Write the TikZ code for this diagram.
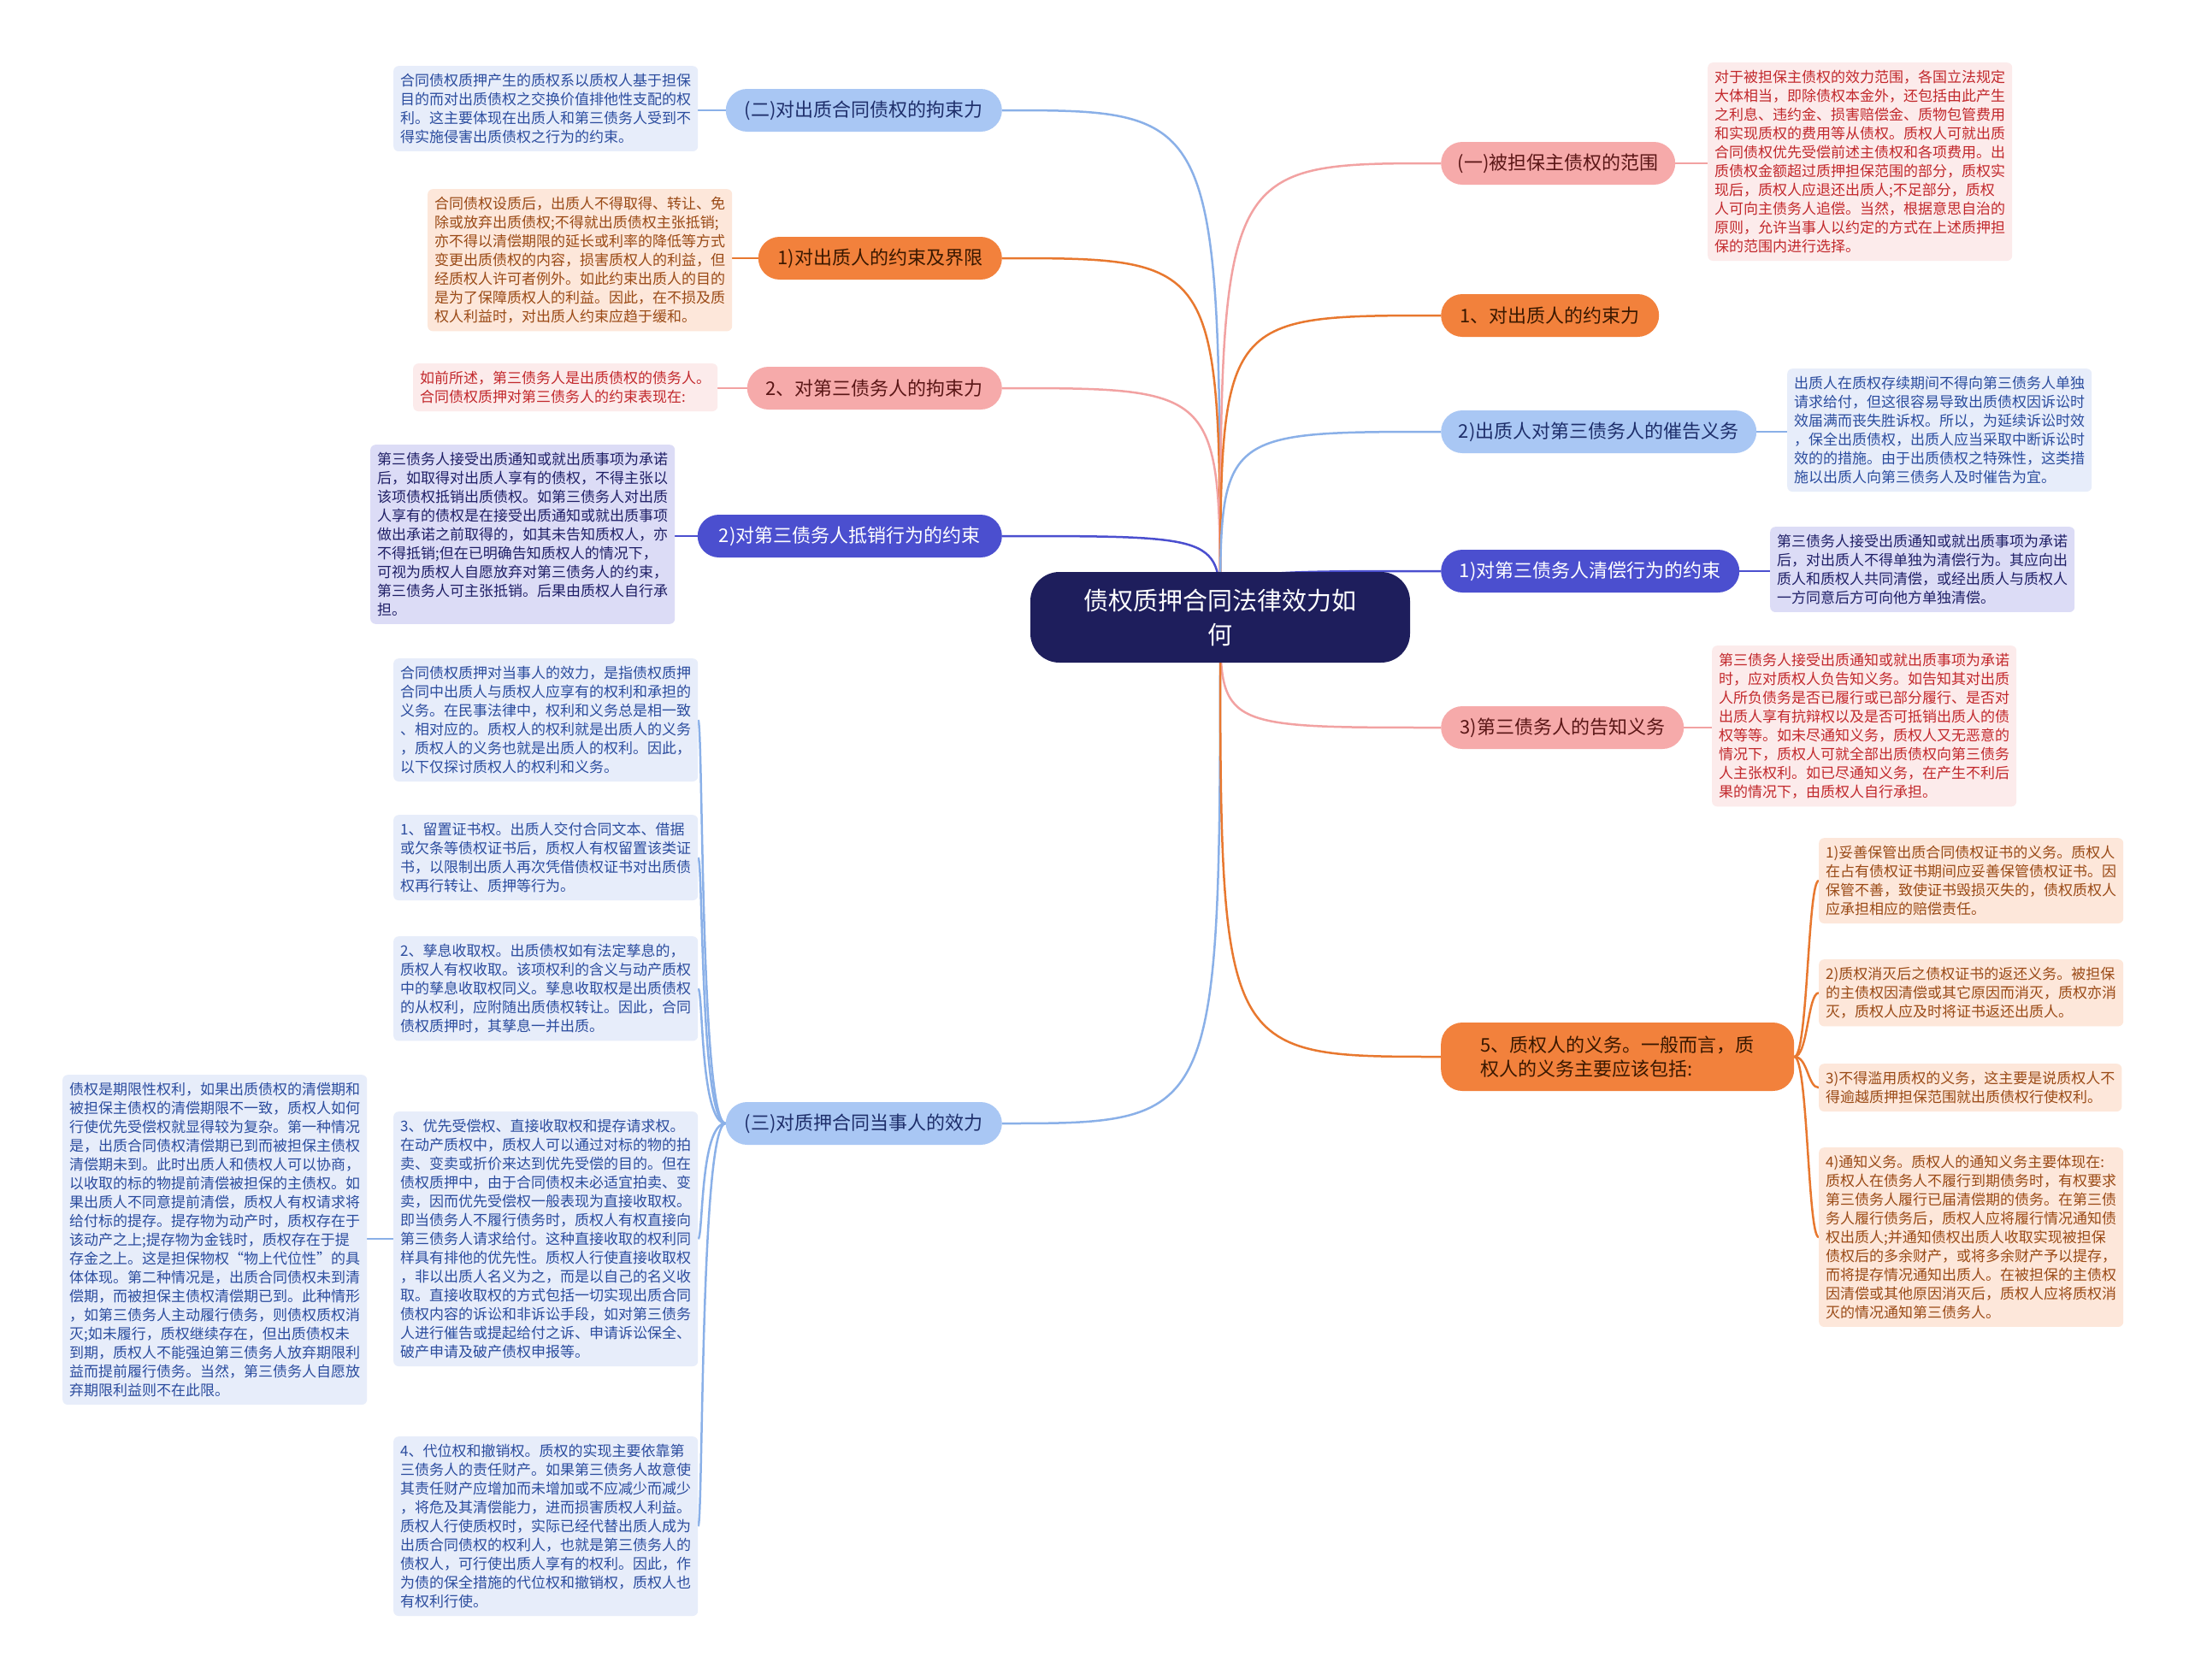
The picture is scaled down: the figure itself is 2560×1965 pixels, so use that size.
\documentclass[tikz,border=0pt]{standalone}
\usepackage{fontspec}
\setmainfont{Noto Sans CJK SC}
\usetikzlibrary{calc}
\pgfdeclarelayer{bg}
\pgfsetlayers{bg,main}
\definecolor{lbF}{HTML}{E7EDFA}\definecolor{lbT}{HTML}{2B4C9E}
\definecolor{lpF}{HTML}{FDE7DA}\definecolor{lpT}{HTML}{9A4A16}
\definecolor{lkF}{HTML}{FCEBEB}\definecolor{lkT}{HTML}{C2282C}
\definecolor{lvF}{HTML}{DCDCF6}\definecolor{lvT}{HTML}{1F1F66}
\definecolor{bbF}{HTML}{A9C7F4}\definecolor{bbT}{HTML}{1E2E6A}
\definecolor{boF}{HTML}{F2813C}\definecolor{boT}{HTML}{3A1800}
\definecolor{bkF}{HTML}{F6AAAA}\definecolor{bkT}{HTML}{5A1616}
\definecolor{bpF}{HTML}{4B4FCF}
\definecolor{rootF}{HTML}{1E1E5C}
\definecolor{cB}{HTML}{8AB0E8}\definecolor{cO}{HTML}{E8782F}
\definecolor{cK}{HTML}{F2A2A2}\definecolor{cP}{HTML}{4B4FCF}
\tikzset{
 leaf/.style={anchor=north west, rounded corners=6pt, inner xsep=8pt, inner ysep=9pt, align=left, font=\fontsize{17}{22}\selectfont},
 lfblue/.style={leaf, fill=lbF, text=lbT},
 lfpeach/.style={leaf, fill=lpF, text=lpT},
 lfpink/.style={leaf, fill=lkF, text=lkT},
 lfpurp/.style={leaf, fill=lvF, text=lvT},
 br/.style={rounded corners=25pt, minimum height=50pt, inner xsep=12pt, font=\fontsize{22}{28}\selectfont},
 brblue/.style={br, fill=bbF, text=bbT},
 brorange/.style={br, fill=boF, text=boT},
 brpink/.style={br, fill=bkF, text=bkT},
 brpurp/.style={br, fill=bpF, text=white},
 cn/.style={line width=2.5pt},
 cnblue/.style={cn, draw=cB},
 cnorange/.style={cn, draw=cO},
 cnpink/.style={cn, draw=cK},
 cnpurp/.style={cn, draw=cP}
}
\begin{document}
\begin{tikzpicture}[x=1pt,y=-1pt]
\begin{pgfonlayer}{bg}
\fill[white] (0,0) rectangle (2560,1965);
\end{pgfonlayer}
\useasboundingbox (0,0) rectangle (2560,1965);

% root
\node[fill=rootF, text=white, rounded corners=34pt, minimum width=444pt, minimum height=106pt, align=center, font=\fontsize{29}{40}\selectfont] (root) at (1427,722) {债权质押合同法律效力如\\何};

% left branches
\node[brblue, anchor=east, minimum width=323pt] (B1) at (1172,129) {(二)对出质合同债权的拘束力};
\node[brorange, anchor=east, minimum width=285pt] (B2) at (1172,302) {1)对出质人的约束及界限};
\node[brpink, anchor=east, minimum width=298pt] (B3) at (1172,454) {2、对第三债务人的拘束力};
\node[brpurp, anchor=east, minimum width=356pt] (B4) at (1172,627) {2)对第三债务人抵销行为的约束};
\node[brblue, anchor=east, minimum width=323pt] (B5) at (1172,1314) {(三)对质押合同当事人的效力};

% right branches
\node[brpink, anchor=west, minimum width=274pt] (B6) at (1685,191) {(一)被担保主债权的范围};
\node[brorange, anchor=west, minimum width=255pt] (B7) at (1685,369) {1、对出质人的约束力};
\node[brblue, anchor=west, minimum width=369pt] (B8) at (1685,505) {2)出质人对第三债务人的催告义务};
\node[brpurp, anchor=west, minimum width=349pt] (B9) at (1685,668) {1)对第三债务人清偿行为的约束};
\node[brpink, anchor=west, minimum width=284pt] (B10) at (1685,851) {3)第三债务人的告知义务};
\node[brorange, anchor=west, minimum width=413pt, minimum height=80pt, align=left, inner xsep=22pt] (B11) at (1685,1236) {5、质权人的义务。一般而言，质\\权人的义务主要应该包括:};

% left leaves
\node[lfblue] (L1) at (460,77) {合同债权质押产生的质权系以质权人基于担保\\目的而对出质债权之交换价值排他性支配的权\\利。这主要体现在出质人和第三债务人受到不\\得实施侵害出质债权之行为的约束。};
\node[lfpeach] (L2) at (500,221) {合同债权设质后，出质人不得取得、转让、免\\除或放弃出质债权;不得就出质债权主张抵销;\\亦不得以清偿期限的延长或利率的降低等方式\\变更出质债权的内容，损害质权人的利益，但\\经质权人许可者例外。如此约束出质人的目的\\是为了保障质权人的利益。因此，在不损及质\\权人利益时，对出质人约束应趋于缓和。};
\node[lfpink] (L3) at (483,425) {如前所述，第三债务人是出质债权的债务人。\\合同债权质押对第三债务人的约束表现在:};
\node[lfpurp] (L4) at (433,520) {第三债务人接受出质通知或就出质事项为承诺\\后，如取得对出质人享有的债权，不得主张以\\该项债权抵销出质债权。如第三债务人对出质\\人享有的债权是在接受出质通知或就出质事项\\做出承诺之前取得的，如其未告知质权人，亦\\不得抵销;但在已明确告知质权人的情况下，\\可视为质权人自愿放弃对第三债务人的约束，\\第三债务人可主张抵销。后果由质权人自行承\\担。};
\node[lfblue] (L5) at (460,770) {合同债权质押对当事人的效力，是指债权质押\\合同中出质人与质权人应享有的权利和承担的\\义务。在民事法律中，权利和义务总是相一致\\、相对应的。质权人的权利就是出质人的义务\\，质权人的义务也就是出质人的权利。因此，\\以下仅探讨质权人的权利和义务。};
\node[lfblue] (L6) at (460,953) {1、留置证书权。出质人交付合同文本、借据\\或欠条等债权证书后，质权人有权留置该类证\\书，以限制出质人再次凭借债权证书对出质债\\权再行转让、质押等行为。};
\node[lfblue] (L7) at (460,1095) {2、孳息收取权。出质债权如有法定孳息的，\\质权人有权收取。该项权利的含义与动产质权\\中的孳息收取权同义。孳息收取权是出质债权\\的从权利，应附随出质债权转让。因此，合同\\债权质押时，其孳息一并出质。};
\node[lfblue] (L8) at (460,1300) {3、优先受偿权、直接收取权和提存请求权。\\在动产质权中，质权人可以通过对标的物的拍\\卖、变卖或折价来达到优先受偿的目的。但在\\债权质押中，由于合同债权未必适宜拍卖、变\\卖，因而优先受偿权一般表现为直接收取权。\\即当债务人不履行债务时，质权人有权直接向\\第三债务人请求给付。这种直接收取的权利同\\样具有排他的优先性。质权人行使直接收取权\\，非以出质人名义为之，而是以自己的名义收\\取。直接收取权的方式包括一切实现出质合同\\债权内容的诉讼和非诉讼手段，如对第三债务\\人进行催告或提起给付之诉、申请诉讼保全、\\破产申请及破产债权申报等。};
\node[lfblue] (L9) at (460,1680) {4、代位权和撤销权。质权的实现主要依靠第\\三债务人的责任财产。如果第三债务人故意使\\其责任财产应增加而未增加或不应减少而减少\\，将危及其清偿能力，进而损害质权人利益。\\质权人行使质权时，实际已经代替出质人成为\\出质合同债权的权利人，也就是第三债务人的\\债权人，可行使出质人享有的权利。因此，作\\为债的保全措施的代位权和撤销权，质权人也\\有权利行使。};
\node[lfblue] (L10) at (73,1257) {债权是期限性权利，如果出质债权的清偿期和\\被担保主债权的清偿期限不一致，质权人如何\\行使优先受偿权就显得较为复杂。第一种情况\\是，出质合同债权清偿期已到而被担保主债权\\清偿期未到。此时出质人和债权人可以协商，\\以收取的标的物提前清偿被担保的主债权。如\\果出质人不同意提前清偿，质权人有权请求将\\给付标的提存。提存物为动产时，质权存在于\\该动产之上;提存物为金钱时，质权存在于提\\存金之上。这是担保物权“物上代位性”的具\\体体现。第二种情况是，出质合同债权未到清\\偿期，而被担保主债权清偿期已到。此种情形\\，如第三债务人主动履行债务，则债权质权消\\灭;如未履行，质权继续存在，但出质债权未\\到期，质权人不能强迫第三债务人放弃期限利\\益而提前履行债务。当然，第三债务人自愿放\\弃期限利益则不在此限。};

% right leaves
\node[lfpink] (R1) at (1997,73) {对于被担保主债权的效力范围，各国立法规定\\大体相当，即除债权本金外，还包括由此产生\\之利息、违约金、损害赔偿金、质物包管费用\\和实现质权的费用等从债权。质权人可就出质\\合同债权优先受偿前述主债权和各项费用。出\\质债权金额超过质押担保范围的部分，质权实\\现后，质权人应退还出质人;不足部分，质权\\人可向主债务人追偿。当然，根据意思自治的\\原则，允许当事人以约定的方式在上述质押担\\保的范围内进行选择。};
\node[lfblue] (R2) at (2090,431) {出质人在质权存续期间不得向第三债务人单独\\请求给付，但这很容易导致出质债权因诉讼时\\效届满而丧失胜诉权。所以，为延续诉讼时效\\，保全出质债权，出质人应当采取中断诉讼时\\效的的措施。由于出质债权之特殊性，这类措\\施以出质人向第三债务人及时催告为宜。};
\node[lfpurp] (R3) at (2070,616) {第三债务人接受出质通知或就出质事项为承诺\\后，对出质人不得单独为清偿行为。其应向出\\质人和质权人共同清偿，或经出质人与质权人\\一方同意后方可向他方单独清偿。};
\node[lfpink] (R4) at (2002,755) {第三债务人接受出质通知或就出质事项为承诺\\时，应对质权人负告知义务。如告知其对出质\\人所负债务是否已履行或已部分履行、是否对\\出质人享有抗辩权以及是否可抵销出质人的债\\权等等。如未尽通知义务，质权人又无恶意的\\情况下，质权人可就全部出质债权向第三债务\\人主张权利。如已尽通知义务，在产生不利后\\果的情况下，由质权人自行承担。};
\node[lfpeach] (R5) at (2127,980) {1)妥善保管出质合同债权证书的义务。质权人\\在占有债权证书期间应妥善保管债权证书。因\\保管不善，致使证书毁损灭失的，债权质权人\\应承担相应的赔偿责任。};
\node[lfpeach] (R6) at (2127,1122) {2)质权消灭后之债权证书的返还义务。被担保\\的主债权因清偿或其它原因而消灭，质权亦消\\灭，质权人应及时将证书返还出质人。};
\node[lfpeach] (R7) at (2127,1244) {3)不得滥用质权的义务，这主要是说质权人不\\得逾越质押担保范围就出质债权行使权利。};
\node[lfpeach] (R8) at (2127,1342) {4)通知义务。质权人的通知义务主要体现在:\\质权人在债务人不履行到期债务时，有权要求\\第三债务人履行已届清偿期的债务。在第三债\\务人履行债务后，质权人应将履行情况通知债\\权出质人;并通知债权出质人收取实现被担保\\债权后的多余财产，或将多余财产予以提存，\\而将提存情况通知出质人。在被担保的主债权\\因清偿或其他原因消灭后，质权人应将质权消\\灭的情况通知第三债务人。};

% connectors
\begin{pgfonlayer}{bg}
\draw[cnblue] (root.center) .. controls (root.center |- B1.east) .. (B1.east);
\draw[cnorange] (root.center) .. controls (root.center |- B2.east) .. (B2.east);
\draw[cnpink] (root.center) .. controls (root.center |- B3.east) .. (B3.east);
\draw[cnpurp] (root.center) .. controls (root.center |- B4.east) .. (B4.east);
\draw[cnblue] (root.center) .. controls (root.center |- B5.east) .. (B5.east);
\draw[cnpink] (root.center) .. controls (root.center |- B6.west) .. (B6.west);
\draw[cnorange] (root.center) .. controls (root.center |- B7.west) .. (B7.west);
\draw[cnblue] (root.center) .. controls (root.center |- B8.west) .. (B8.west);
\draw[cnpurp] (root.center) .. controls (root.center |- B9.west) .. (B9.west);
\draw[cnpink] (root.center) .. controls (root.center |- B10.west) .. (B10.west);
\draw[cnorange] (root.center) .. controls (root.center |- B11.west) .. (B11.west);

\draw[cnblue] (B1.west) -- (L1.east |- B1.west);
\draw[cnorange] (B2.west) -- (L2.east |- B2.west);
\draw[cnpink] (B3.west) -- (L3.east |- B3.west);
\draw[cnpurp] (B4.west) -- (L4.east |- B4.west);
\draw[cnpink] (B6.east) -- (R1.west |- B6.east);
\draw[cnblue] (B8.east) -- (R2.west |- B8.east);
\draw[cnpurp] (B9.east) -- (R3.west |- B9.east);
\draw[cnpink] (B10.east) -- (R4.west |- B10.east);

\foreach \n in {L5,L6,L7,L8,L9}
  \draw[cnblue] (B5.west) .. controls +(-30,0) and +(6,0) .. (\n.east);
\foreach \n in {R5,R6,R7,R8}
  \draw[cnorange] (B11.east) .. controls +(16,0) and +(-13,0) .. (\n.west);
\draw[cnblue] (L8.west) -- (L10.east |- L8.west);
\end{pgfonlayer}
\end{tikzpicture}
\end{document}
